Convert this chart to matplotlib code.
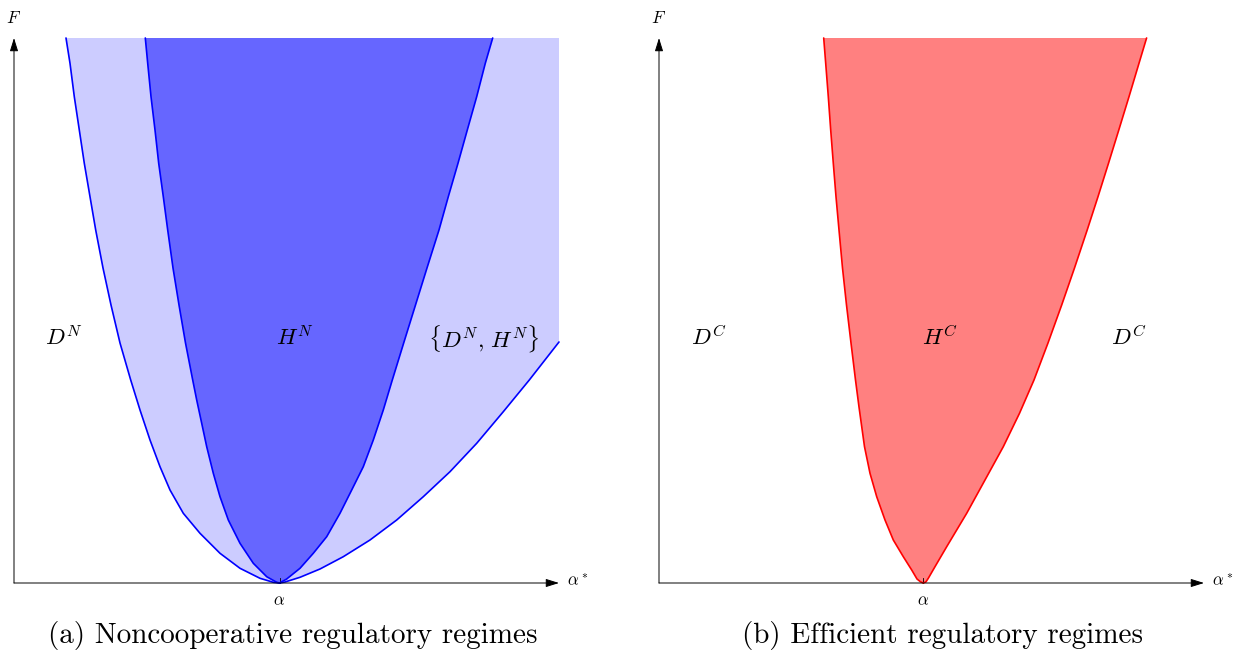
import matplotlib
matplotlib.use("Agg")
import matplotlib.pyplot as plt

plt.rcParams['mathtext.fontset'] = 'cm'

# ---- data (x = distance along alpha*, F = height; same units) ----
alpha_a = 265.5
alpha_b = 264.3
x_end = 545.0
F_top = 545.0

# Panel (a): outer curves (boundary of the D^N / {D^N,H^N} band)
outer_left_x = [52, 56, 60.3, 65.3, 70.3, 76, 81.7, 89, 97, 106, 116.7, 126, 136, 146,
                156, 169.3, 186, 206, 226, 246, 259.3, 265.5]
outer_left_F = [545, 519.7, 486.3, 453, 419.7, 386.3, 353, 315, 278, 240, 203, 173, 143,
                116.3, 93, 69.7, 49.7, 29.7, 14.7, 4.7, 0.7, 0]
outer_right_x = [265.5, 271, 286, 306, 329.3, 356, 382.7, 409.3, 436, 462.7, 489.3, 515.3, 545]
outer_right_F = [0, 1.0, 5.7, 14, 26.3, 43, 63, 86.3, 111.3, 139.7, 171.3, 203, 241]

# Panel (a): inner curves (boundary of H^N)
inner_left_x = [131.3, 133.7, 137, 141, 144.7, 149.3, 153.7, 159, 165, 171.5, 178.7, 182.7,
                187.7, 192.7, 199.3, 206, 214.3, 226, 239.3, 252.7, 262.7, 265.5]
inner_left_F = [545, 519.7, 486.3, 453, 419.7, 386.3, 353, 315, 278, 240, 203, 183,
                159.7, 136.3, 109.7, 86.3, 63, 39.7, 19.7, 6.3, 0.7, 0]
inner_right_x = [265.5, 272.7, 286, 299.3, 312.7, 326, 337.7, 349.3, 359.3, 369.3, 378.3,
                 390, 401.5, 413, 425, 434.3, 444, 453.3, 462.7, 471.3, 478.7]
inner_right_F = [0, 4, 14.7, 29.7, 46.3, 69.7, 93, 116.3, 143, 173, 203,
                 241, 278, 315, 353, 386.3, 419.7, 453, 486.3, 519.7, 545]

# Panel (b): boundary of H^C
hc_left_x = [164.7, 166.7, 169.3, 171.7, 174.3, 177, 180, 183.5, 187.5, 192, 196.5, 200,
             205.5, 211, 217.7, 226, 234.3, 244.3, 252.7, 258, 261.5, 264.3]
hc_left_F = [545, 519.7, 486.3, 453, 419.7, 386.3, 353, 315, 278, 240, 203, 176,
             136.3, 109.7, 86.3, 63, 43, 26.3, 13, 4, 1.2, 0]
hc_right_x = [264.3, 267, 269.3, 276, 287.7, 307.7, 326, 344.3, 360.5, 375, 389, 402.7,
              415.5, 428.2, 439, 449.5, 459.8, 470, 480, 487.6]
hc_right_F = [0, 1.2, 4.7, 16.3, 36.3, 69.7, 103, 136.3, 169.7, 203, 240, 278,
              315, 353, 386.3, 419.7, 453, 486.3, 519.7, 545]

labels_a = [r'$D^N$', r'$H^N$', r'$\{D^N,\, H^N\}$']
labels_b = [r'$D^C$', r'$H^C$', r'$D^C$']
labels_x = [50, 281, 470]
label_F = 245

captions = ['(a) Noncooperative regulatory regimes', '(b) Efficient regulatory regimes']

# ---- figure ----
W, H = 1234, 651
fig = plt.figure(figsize=(W / 100, H / 100), dpi=100)
oy = 583.0


def make_axes(px0, px1, ox):
    ax = fig.add_axes([px0 / W, (H - 610) / H, (px1 - px0) / W, 610 / H])
    ax.set_xlim(px0 - ox, px1 - ox)
    ax.set_ylim(oy - 610, oy)
    ax.axis('off')
    return ax


def draw_axes(ax, alpha):
    style = '-|>,head_length=0.8,head_width=0.25'
    ax.annotate('', xy=(x_end, 0), xytext=(0, 0),
                arrowprops=dict(arrowstyle=style, color='black', lw=0.7,
                                shrinkA=0, shrinkB=0))
    ax.annotate('', xy=(0, F_top), xytext=(0, 0),
                arrowprops=dict(arrowstyle=style, color='black', lw=0.7,
                                shrinkA=0, shrinkB=0))
    ax.text(0, 565, r'$F$', ha='center', va='center', fontsize=12.5)
    ax.text(564, 2, r'$\alpha^*$', ha='center', va='center', fontsize=12)
    ax.plot([alpha, alpha], [0, 5], color='black', lw=0.6)
    ax.text(alpha, -17, r'$\alpha$', ha='center', va='center', fontsize=12)


# Panel (a)
axa = make_axes(0, 615, 14)
light_x = outer_left_x + outer_right_x[1:] + [x_end]
light_F = outer_left_F + outer_right_F[1:] + [F_top]
axa.fill(light_x, light_F, color='#ccccff', lw=0, zorder=1)
dark_x = inner_left_x + inner_right_x[1:]
dark_F = inner_left_F + inner_right_F[1:]
axa.fill(dark_x, dark_F, color='#6666ff', lw=0, zorder=2)
for xs, fs in [(outer_left_x, outer_left_F), (outer_right_x, outer_right_F),
               (inner_left_x, inner_left_F), (inner_right_x, inner_right_F)]:
    axa.plot(xs, fs, color='#0000ff', lw=1.2, zorder=3,
             solid_joinstyle='round', solid_capstyle='round')
draw_axes(axa, alpha_a)
for t, x in zip(labels_a, labels_x):
    axa.text(x, label_F, t, ha='center', va='center', fontsize=16.5)

# Panel (b)
axb = make_axes(640, 1234, 659)
hc_x = hc_left_x + hc_right_x[1:]
hc_F = hc_left_F + hc_right_F[1:]
axb.fill(hc_x, hc_F, color='#ff8080', lw=0, zorder=1)
for xs, fs in [(hc_left_x, hc_left_F), (hc_right_x, hc_right_F)]:
    axb.plot(xs, fs, color='#ff0000', lw=1.2, zorder=3,
             solid_joinstyle='round', solid_capstyle='round')
draw_axes(axb, alpha_b)
for t, x in zip(labels_b, labels_x):
    axb.text(x, label_F, t, ha='center', va='center', fontsize=16.5)

fig.text(293 / W, 1 - 636 / H, captions[0], ha='center', va='center',
         fontsize=21, family='cmr10')
fig.text(942.5 / W, 1 - 636 / H, captions[1], ha='center', va='center',
         fontsize=21, family='cmr10')

fig.savefig('out.png', dpi=100)
